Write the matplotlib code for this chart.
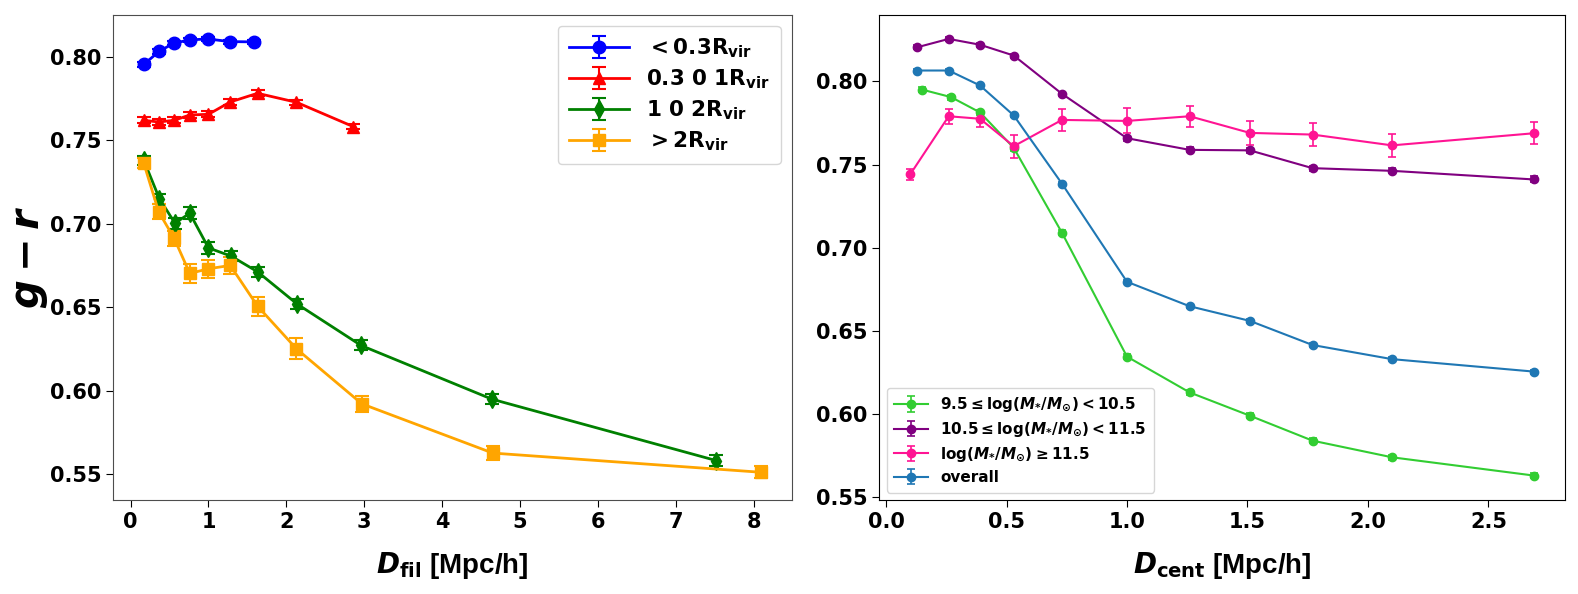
import matplotlib
matplotlib.use("Agg")
import matplotlib.pyplot as plt
import numpy as np

plt.rcParams['font.family'] = 'DejaVu Sans'
plt.rcParams['font.weight'] = 'bold'
plt.rcParams['mathtext.fontset'] = 'custom'
plt.rcParams['mathtext.rm'] = 'DejaVu Sans:bold'
plt.rcParams['mathtext.bf'] = 'DejaVu Sans:bold'
plt.rcParams['mathtext.it'] = 'DejaVu Sans:bold:italic'

# left panel: colour vs filament distance, split by cluster-centric distance
x_in = [0.17, 0.37, 0.56, 0.76, 0.99, 1.27, 1.59]
y_in = [0.7955, 0.8035, 0.8083, 0.8102, 0.8108, 0.8092, 0.8090]
e_in = [0.0015, 0.0015, 0.0012, 0.0012, 0.0012, 0.0012, 0.0013]

x_mid = [0.17, 0.36, 0.56, 0.76, 1.00, 1.28, 1.63, 2.13, 2.86]
y_mid = [0.7620, 0.7610, 0.7620, 0.7652, 0.7656, 0.7730, 0.7782, 0.7728, 0.7582]
e_mid = [0.0018, 0.0018, 0.0018, 0.0018, 0.0018, 0.0017, 0.0017, 0.0015, 0.0016]

x_out = [0.17, 0.37, 0.57, 0.76, 1.00, 1.29, 1.63, 2.14, 2.96, 4.64, 7.52]
y_out = [0.7380, 0.7150, 0.7003, 0.7063, 0.6855, 0.6806, 0.6712, 0.6518, 0.6270, 0.5948, 0.5580]
e_out = [0.0028, 0.0030, 0.0032, 0.0035, 0.0035, 0.0030, 0.0030, 0.0032, 0.0030, 0.0030, 0.0035]

x_far = [0.17, 0.36, 0.56, 0.76, 1.00, 1.28, 1.63, 2.13, 2.97, 4.65, 8.09]
y_far = [0.7362, 0.7072, 0.6912, 0.6702, 0.6730, 0.6750, 0.6506, 0.6250, 0.5920, 0.5625, 0.5510]
e_far = [0.0030, 0.0045, 0.0047, 0.0055, 0.0054, 0.0052, 0.0057, 0.0063, 0.0050, 0.0040, 0.0035]

# right panel: colour vs distance to centre, split by stellar mass
d_cent = [0.13, 0.26, 0.39, 0.53, 0.73, 1.00, 1.26, 1.51, 1.77, 2.10, 2.69]
x_pink = [0.10, 0.26, 0.39, 0.53, 0.73, 1.00, 1.26, 1.51, 1.77, 2.10, 2.69]
x_lime = [0.15, 0.27, 0.39, 0.53, 0.73, 1.00, 1.26, 1.51, 1.77, 2.10, 2.69]

y_low = [0.7950, 0.7905, 0.7813, 0.7600, 0.7090, 0.6345, 0.6130, 0.5990, 0.5840, 0.5740, 0.5630]
e_low = [0.0015, 0.0015, 0.0015, 0.0020, 0.0015, 0.0015, 0.0015, 0.0015, 0.0015, 0.0015, 0.0015]

y_mid_m = [0.8205, 0.8255, 0.8220, 0.8155, 0.7925, 0.7658, 0.7588, 0.7585, 0.7478, 0.7462, 0.7410]
e_mid_m = [0.0012, 0.0012, 0.0012, 0.0012, 0.0012, 0.0015, 0.0015, 0.0015, 0.0015, 0.0015, 0.0018]

y_high = [0.7440, 0.7790, 0.7775, 0.7610, 0.7768, 0.7762, 0.7790, 0.7690, 0.7680, 0.7615, 0.7688]
e_high = [0.0032, 0.0046, 0.0050, 0.0068, 0.0065, 0.0075, 0.0064, 0.0070, 0.0068, 0.0070, 0.0065]

y_all = [0.8065, 0.8065, 0.7975, 0.7795, 0.7385, 0.6795, 0.6648, 0.6560, 0.6415, 0.6330, 0.6255]
e_all = [0.0010, 0.0010, 0.0010, 0.0010, 0.0010, 0.0010, 0.0010, 0.0010, 0.0010, 0.0010, 0.0012]

fig = plt.figure(figsize=(15.78, 5.94), dpi=100)
ax1 = fig.add_axes([0.0716, 0.158, 0.430, 0.817])
ax2 = fig.add_axes([0.5570, 0.158, 0.435, 0.817])

kw = dict(capsize=5, lw=2, ms=9, elinewidth=1.5, capthick=1.5)
ax1.errorbar(x_in, y_in, yerr=e_in, color='blue', marker='o',
             label=r'$< 0.3\mathrm{R_{vir}}$', **kw)
ax1.errorbar(x_mid, y_mid, yerr=e_mid, color='red', marker='^',
             label=r'$0.3\ 0\ 1\mathrm{R_{vir}}$', **kw)
ax1.errorbar(x_out, y_out, yerr=e_out, color='green', marker='d',
             label=r'$1\ 0\ 2\mathrm{R_{vir}}$', **kw)
ax1.errorbar(x_far, y_far, yerr=e_far, color='orange', marker='s',
             label=r'$> 2\mathrm{R_{vir}}$', **kw)

ax1.set_xlabel(r'$D_{\mathrm{fil}}$ [Mpc/h]', fontsize=20, fontweight='bold',
               fontfamily='Liberation Sans', labelpad=13)
ax1.set_ylabel(r'$g - r$', fontsize=29)
ax1.yaxis.set_label_coords(-0.093, 0.5)
ax1.set_yticks([0.55, 0.60, 0.65, 0.70, 0.75, 0.80])
ax1.set_xticks(range(0, 9))
ax1.tick_params(labelsize=15, length=5)
for s in ax1.spines.values():
    s.set_color('0.3')
ax1.legend(loc='upper right', fontsize=15.5, handlelength=2.8,
           borderpad=0.5, labelspacing=0.35)

kw2 = dict(capsize=3, lw=1.5, ms=6, elinewidth=1.2, capthick=1.2)
ax2.errorbar(x_lime, y_low, yerr=e_low, color='limegreen', marker='o',
             label=r'$9.5 \leq \log(M_{*}/M_{\odot}) < 10.5$', **kw2)
ax2.errorbar(d_cent, y_mid_m, yerr=e_mid_m, color='purple', marker='o',
             label=r'$10.5 \leq \log(M_{*}/M_{\odot}) < 11.5$', **kw2)
ax2.errorbar(x_pink, y_high, yerr=e_high, color='deeppink', marker='o',
             label=r'$\log(M_{*}/M_{\odot}) \geq 11.5$', **kw2)
ax2.errorbar(d_cent, y_all, yerr=e_all, color='tab:blue', marker='o',
             label='overall', **kw2)

ax2.set_xlabel(r'$D_{\mathrm{cent}}$ [Mpc/h]', fontsize=20, fontweight='bold',
               fontfamily='Liberation Sans', labelpad=13)
ax2.set_yticks([0.55, 0.60, 0.65, 0.70, 0.75, 0.80])
ax2.set_xticks([0.0, 0.5, 1.0, 1.5, 2.0, 2.5])
ax2.tick_params(labelsize=15, length=5)
ax2.legend(loc='lower left', fontsize=11, handlelength=2.2,
           borderpad=0.5, labelspacing=0.4)

fig.savefig('out.png', dpi=100)
